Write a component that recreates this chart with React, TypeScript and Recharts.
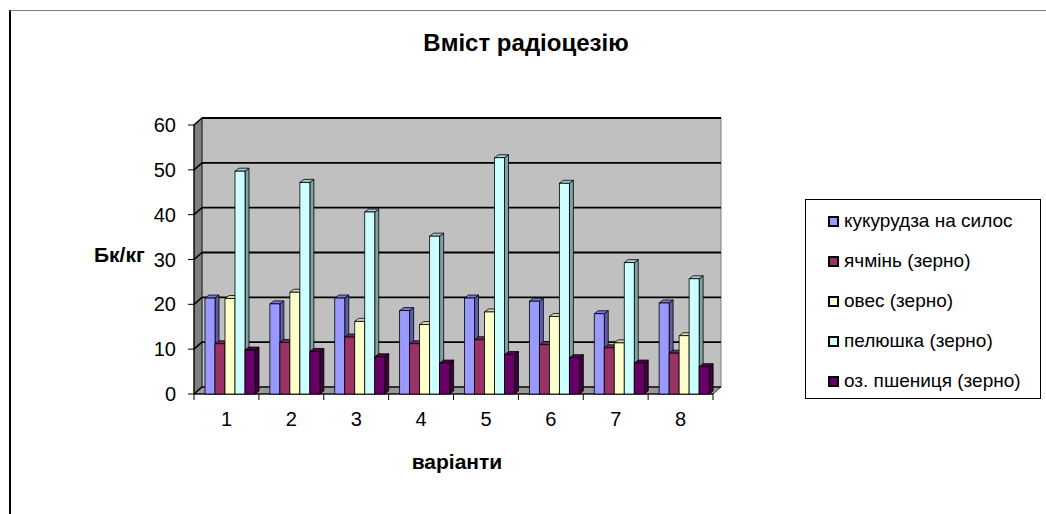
import React from 'react';
import { BarChart, Bar, XAxis, YAxis, ReferenceArea } from 'recharts';

const categories = ['1', '2', '3', '4', '5', '6', '7', '8'];
const kukurudza = [21.4, 20.1, 21.4, 18.6, 21.4, 20.7, 17.9, 20.3];
const yachmin = [11.2, 11.5, 12.7, 11.2, 12.1, 11.0, 10.3, 9.1];
const oves = [21.3, 22.7, 16.2, 15.5, 18.3, 17.3, 11.4, 13.0];
const pelyushka = [49.7, 47.2, 40.6, 35.2, 52.7, 47.0, 29.3, 25.7];
const pshenytsia = [9.8, 9.5, 8.3, 6.9, 8.8, 8.1, 6.9, 6.1];
const yTicks = [0, 10, 20, 30, 40, 50, 60];

const seriesNames = [
  'кукурудза на силос',
  'ячмінь (зерно)',
  'овес (зерно)',
  'пелюшка (зерно)',
  'оз. пшениця (зерно)',
];
const seriesKeys = ['s0', 's1', 's2', 's3', 's4'];
const seriesValues = [kukurudza, yachmin, oves, pelyushka, pshenytsia];
const fronts = ['#9999FF', '#993366', '#FFFFCC', '#CCFFFF', '#660066'];
const sides = ['#5C5CA8', '#5E1F3F', '#A8A886', '#7FA3A3', '#3D003D'];
const tops = ['#7A7AD6', '#7A2952', '#D6D6AB', '#A3CCCC', '#520052'];

const data = categories.map((c, i) => {
  const row: any = { cat: c };
  seriesKeys.forEach((k, j) => {
    row[k] = seriesValues[j][i];
  });
  return row;
});

const FONT = 'Arial, "Liberation Sans", sans-serif';
const DX = 8;
const DY = -7;
const BDX = 4;
const BDY = -3;
const SHIFT = 4;

const Frame = (props: any) => {
  const { x, y, width, height } = props;
  const n = categories.length;
  const bottom = y + height;
  const lines = yTicks.map((t) => {
    const yy = bottom - (t / 60) * height;
    return (
      <g key={t}>
        <line x1={x} y1={yy} x2={x + DX} y2={yy + DY} stroke="#000" strokeWidth={1.5} />
        <line x1={x + DX} y1={yy + DY} x2={x + width + DX} y2={yy + DY} stroke="#000" strokeWidth={t === 0 ? 1 : 1.8} />
      </g>
    );
  });
  const xt = [];
  for (let i = 0; i <= n; i++) {
    const xx = x + (i * width) / n;
    xt.push(<line key={i} x1={xx} y1={bottom} x2={xx} y2={bottom + 6} stroke="#000" strokeWidth={1} />);
  }
  return (
    <g>
      <rect x={x + DX} y={y + DY} width={width} height={height} fill="#C0C0C0" stroke="#808080" strokeWidth={1} />
      <polygon
        points={`${x},${y} ${x + DX},${y + DY} ${x + DX},${bottom + DY} ${x},${bottom}`}
        fill="#808080"
        stroke="#000"
        strokeWidth={0.8}
      />
      <polygon
        points={`${x},${bottom} ${x + DX},${bottom + DY} ${x + width + DX},${bottom + DY} ${x + width},${bottom}`}
        fill="#9A9A9A"
        stroke="#000"
        strokeWidth={0.8}
      />
      {lines}
      <line x1={x + DX} y1={y + DY} x2={x + width + DX} y2={y + DY} stroke="#000" strokeWidth={1.8} />
      <line x1={x} y1={bottom} x2={x + width} y2={bottom} stroke="#000" strokeWidth={1} />
      {xt}
    </g>
  );
};

const makeShape = (j: number) => (props: any) => {
  const { x, y, width, height } = props;
  if (height == null || width == null) return <g />;
  const bx = x + SHIFT;
  return (
    <g>
      <polygon
        points={`${bx + width},${y} ${bx + width + BDX},${y + BDY} ${bx + width + BDX},${y + height + BDY} ${bx + width},${y + height}`}
        fill={sides[j]}
        stroke="#000"
        strokeWidth={0.8}
      />
      <polygon
        points={`${bx},${y} ${bx + BDX},${y + BDY} ${bx + width + BDX},${y + BDY} ${bx + width},${y}`}
        fill={tops[j]}
        stroke="#000"
        strokeWidth={0.8}
      />
      <rect x={bx} y={y} width={width} height={height} fill={fronts[j]} stroke="#000" strokeWidth={0.8} />
    </g>
  );
};

export default function App() {
  return (
    <div
      style={{
        position: 'absolute',
        left: 0,
        top: 0,
        width: 1046,
        height: 514,
        overflow: 'hidden',
        background: '#fff',
        fontFamily: FONT,
      }}
    >
      <div
        style={{
          position: 'absolute',
          left: 9,
          top: 10,
          width: 2000,
          height: 1000,
          borderLeft: '2px solid #000',
          borderTop: '1px solid #808080',
        }}
      />
      <div
        style={{
          position: 'absolute',
          left: 0,
          width: 1052,
          top: 29,
          textAlign: 'center',
          fontSize: 24,
          fontWeight: 'bold',
          color: '#000',
        }}
      >
        Вміст радіоцезію
      </div>
      <div style={{ position: 'absolute', left: 0, top: 0 }}>
        <BarChart
          width={1046}
          height={514}
          data={data}
          margin={{ left: 134, right: 333, top: 125, bottom: 80 }}
          barGap={0}
          barSize={10}
        >
          <XAxis
            dataKey="cat"
            height={40}
            axisLine={false}
            tickLine={false}
            tickSize={0}
            tickMargin={18}
            interval={0}
            tick={{ fontSize: 20, fill: '#000', fontFamily: FONT }}
          />
          <YAxis
            width={60}
            domain={[0, 60]}
            ticks={yTicks}
            interval={0}
            axisLine={{ stroke: '#000', strokeWidth: 1 }}
            tickLine={{ stroke: '#000', strokeWidth: 1 }}
            tickSize={6}
            tickMargin={12}
            tick={{ fontSize: 20, fill: '#000', fontFamily: FONT }}
          />
          <ReferenceArea y1={0} y2={60} ifOverflow="visible" shape={(p: any) => <Frame {...p} />} />
          {seriesKeys.map((k, j) => (
            <Bar key={k} dataKey={k} name={seriesNames[j]} fill={fronts[j]} isAnimationActive={false} shape={makeShape(j)} />
          ))}
        </BarChart>
      </div>
      <div
        style={{
          position: 'absolute',
          left: 94,
          top: 243,
          fontSize: 21,
          fontWeight: 'bold',
          color: '#000',
        }}
      >
        Бк/кг
      </div>
      <div
        style={{
          position: 'absolute',
          left: 357,
          width: 200,
          top: 450,
          textAlign: 'center',
          fontSize: 21,
          fontWeight: 'bold',
          color: '#000',
        }}
      >
        варіанти
      </div>
      <div
        style={{
          position: 'absolute',
          left: 805,
          top: 199,
          width: 236,
          height: 200,
          border: '1px solid #000',
          boxSizing: 'border-box',
          background: '#fff',
        }}
      >
        {seriesNames.map((s, j) => (
          <div
            key={s}
            style={{
              position: 'absolute',
              left: 22,
              top: 10 + j * 40,
              height: 22,
              display: 'flex',
              alignItems: 'center',
              fontSize: 19,
              color: '#000',
              whiteSpace: 'nowrap',
            }}
          >
            <span
              style={{
                display: 'inline-block',
                width: 7,
                height: 7,
                border: '2px solid #000',
                background: fronts[j],
                marginRight: 5,
              }}
            />
            {s}
          </div>
        ))}
      </div>
    </div>
  );
}
